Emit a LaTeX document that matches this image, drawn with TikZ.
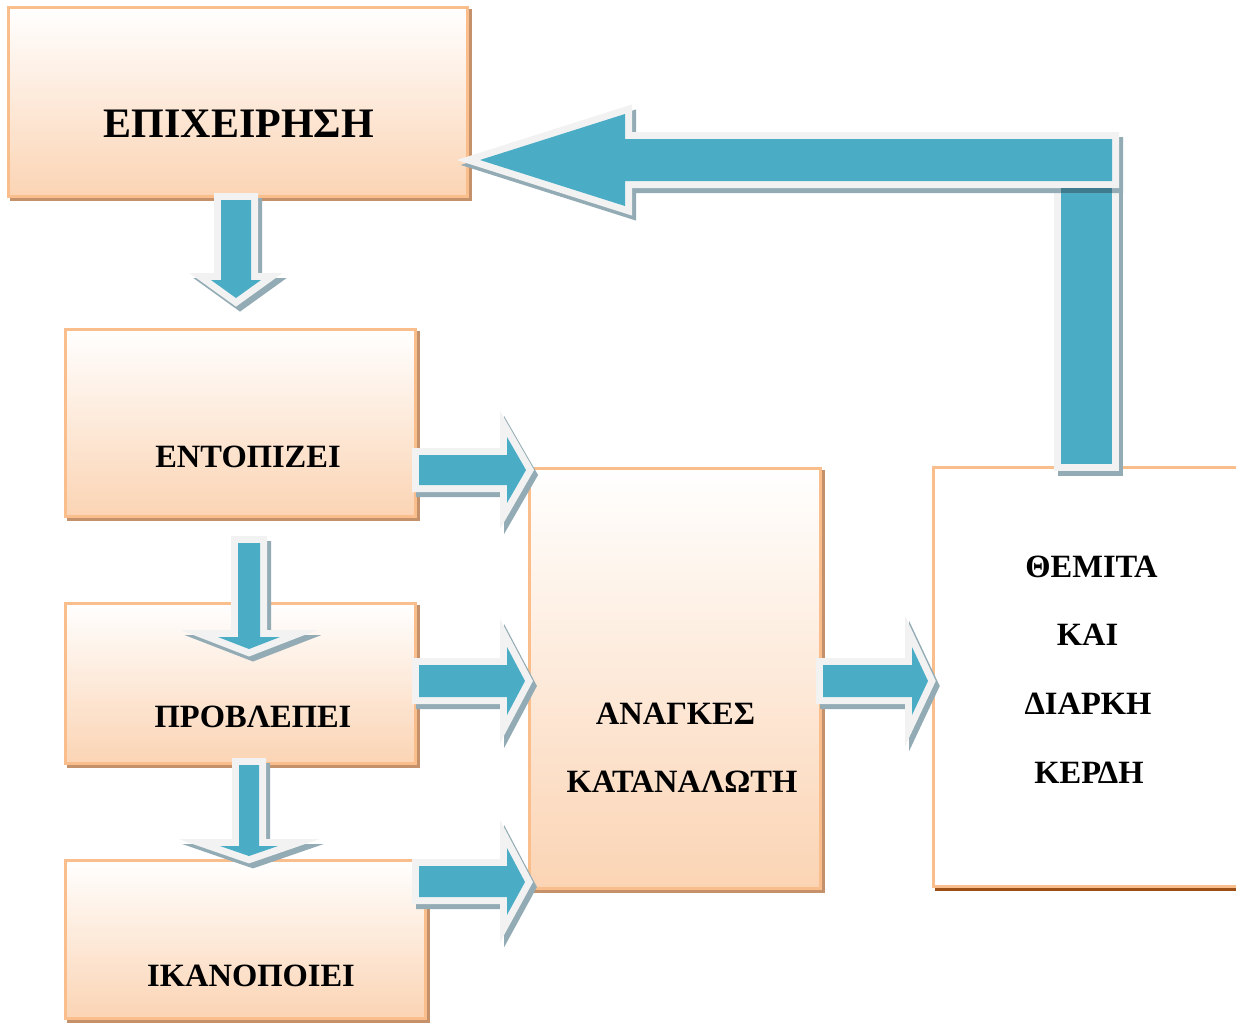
\documentclass[tikz,border=0pt]{standalone}
\usepackage{fontspec}
\setmainfont{Liberation Serif}
\definecolor{tealA}{HTML}{4BACC6}
\definecolor{aborder}{HTML}{F2F2F2}
\definecolor{ashadow}{HTML}{92ABB4}
\definecolor{ashadowdark}{HTML}{3E7C8D}
\definecolor{bborder}{HTML}{F9BE8C}
\definecolor{peach}{HTML}{FBD4B4}
\definecolor{bshadow}{HTML}{C4916A}
\definecolor{bshadowdark}{HTML}{9C4F16}
\newcommand\blockarrow[1]{%
  \filldraw[ashadow, line width=14pt, line join=miter, shift={(4,5)}] #1 -- cycle;
  \draw[aborder, line width=14pt, line join=miter] #1 -- cycle;
  \fill[tealA] #1 -- cycle;}
\tikzset{
  box/.style={draw=bborder, line width=3pt, top color=white, bottom color=peach, inner sep=0pt,
    preaction={fill=bshadow, draw=bshadow, line width=3pt, transform canvas={xshift=3pt,yshift=-3pt}}},
  wbox/.style={draw=bborder, line width=3pt, fill=white, inner sep=0pt,
    preaction={fill=bshadowdark, draw=bshadowdark, line width=3pt, transform canvas={xshift=3pt,yshift=-3pt}}},
  big/.style={font=\bfseries\fontsize{42}{42}\selectfont, inner sep=0pt},
  lbl/.style={font=\bfseries\fontsize{32.5}{32.5}\selectfont, inner sep=0pt}
}
\begin{document}
\begin{tikzpicture}[x=1pt,y=-1pt]
\useasboundingbox (0,0) rectangle (1236,1023);
% boxes
\node[box, minimum width=459pt, minimum height=189pt] (b1) at (237.5,101.5) {};
\node[box, minimum width=350pt, minimum height=187pt] (b2) at (240,422.5) {};
\node[box, minimum width=350pt, minimum height=160pt] (b3) at (240,683) {};
\node[box, minimum width=360pt, minimum height=158pt] (b4) at (245,939) {};
\node[box, minimum width=291pt, minimum height=420pt] (b5) at (674.5,678) {};
\node[wbox, minimum width=327pt, minimum height=419pt] (b6) at (1096.5,676.5) {};
% down arrows
\blockarrow{(221,200) -- (251,200) -- (251,280) -- (261,280) -- (236,298) -- (211,280) -- (221,280)}
\blockarrow{(238,543) -- (260,543) -- (260,637) -- (280,637) -- (249,649) -- (218,637) -- (238,637)}
\blockarrow{(239,765) -- (259,765) -- (259,846) -- (278,846) -- (249,856) -- (220,846) -- (239,846)}
% right arrows
\blockarrow{(419,455) -- (507,455) -- (507,437) -- (526,470) -- (507,503) -- (507,485) -- (419,485)}
\blockarrow{(419,665) -- (507,665) -- (507,647) -- (525,681) -- (507,715) -- (507,697) -- (419,697)}
\blockarrow{(419,866) -- (507,866) -- (507,848) -- (525,882) -- (507,915) -- (507,897) -- (419,897)}
\blockarrow{(823,665) -- (912,665) -- (912,647) -- (928,681) -- (912,715) -- (912,697) -- (823,697)}
% return arrow
\blockarrow{(1061,181) -- (1112,181) -- (1112,464) -- (1061,464)}
\blockarrow{(1112,139) -- (625,139) -- (625,114) -- (480,160) -- (625,206) -- (625,181) -- (1112,181)}
\fill[ashadowdark] (1061,188) rectangle (1112,193);
% labels
\node[big] (t1) at (239,124) {ΕΠΙΧΕΙΡΗΣΗ};
\node[lbl] (t2) at (248,457) {ΕΝΤΟΠΙΖΕΙ};
\node[lbl] (t3) at (253,717) {ΠΡΟΒΛΕΠΕΙ};
\node[lbl] (t4) at (251,976) {ΙΚΑΝΟΠΟΙΕΙ};
\node[lbl] (t5a) at (675.5,714) {ΑΝΑΓΚΕΣ};
\node[lbl] (t5b) at (682,782) {ΚΑΤΑΝΑΛΩΤΗ};
\node[lbl] (t6a) at (1091.5,567) {ΘΕΜΙΤΑ};
\node[lbl] (t6b) at (1087.5,635) {ΚΑΙ};
\node[lbl] (t6c) at (1088,704) {ΔΙΑΡΚΗ};
\node[lbl] (t6d) at (1089,773) {ΚΕΡΔΗ};
\end{tikzpicture}
\end{document}
